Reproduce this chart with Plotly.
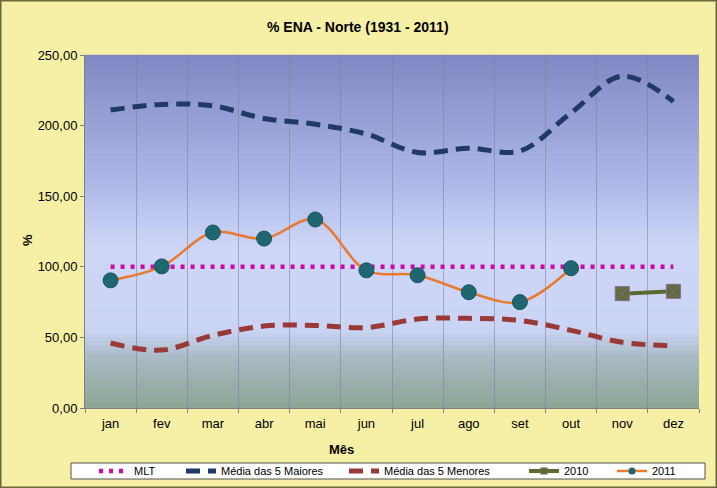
import plotly.graph_objects as go

meses = ["jan", "fev", "mar", "abr", "mai", "jun", "jul", "ago", "set", "out", "nov", "dez"]
mlt = [100, 100, 100, 100, 100, 100, 100, 100, 100, 100, 100, 100]
media_maiores = [211, 215, 214, 205, 201, 194, 181, 184, 182, 209, 235, 217]
media_menores = [46, 41, 51.5, 58, 58.5, 57, 63, 63.5, 62, 55, 46.5, 44]
ano_2010_meses = ["nov", "dez"]
ano_2010 = [81, 82.6]
ano_2011_meses = ["jan", "fev", "mar", "abr", "mai", "jun", "jul", "ago", "set", "out"]
ano_2011 = [90.4, 100.3, 124.3, 120, 133.5, 97.5, 94, 82, 75, 99]
y_ticks = [0, 50, 100, 150, 200, 250]
y_ticktext = ["0,00", "50,00", "100,00", "150,00", "200,00", "250,00"]

W, H = 717, 488
L, R, T, B = 85, 18, 55, 80
PW, PH = W - L - R, H - T - B

def px_x(p):
    return (p - L) / PW

def px_y(p):
    return (H - B - p) / PH

FONT = "Liberation Sans, Arial, sans-serif"

fig = go.Figure()

fig.add_trace(go.Scatter(x=meses, y=mlt, name="MLT", mode="lines",
                         line=dict(color="#cc0aa8", width=4.5, dash="4px,6px"),
                         legend="legend6"))
fig.add_trace(go.Scatter(x=meses, y=media_maiores, name="Média das 5 Maiores", mode="lines",
                         line=dict(color="#1f3a68", width=5, dash="14px,8px", shape="spline", smoothing=1),
                         legend="legend2"))
fig.add_trace(go.Scatter(x=meses, y=media_menores, name="Média das 5 Menores", mode="lines",
                         line=dict(color="#9a3a38", width=5, dash="14px,8px", shape="spline", smoothing=1),
                         legend="legend3"))
fig.add_trace(go.Scatter(x=ano_2010_meses, y=ano_2010, name="2010", mode="lines+markers",
                         line=dict(color="#5a6a30", width=4),
                         marker=dict(symbol="square", size=7, color="#5e6b3c"),
                         legend="legend4"))
fig.add_trace(go.Scatter(x=ano_2010_meses, y=ano_2010, name="2010", mode="markers",
                         marker=dict(symbol="square-x", size=14, color="#5e6b3c",
                                     line=dict(color="#8a6a88", width=1)),
                         showlegend=False))
fig.add_trace(go.Scatter(x=ano_2011_meses, y=ano_2011, name="2011", mode="lines+markers",
                         line=dict(color="#e8792f", width=2.5, shape="spline", smoothing=1),
                         marker=dict(symbol="circle", size=7, color="#1e6670"),
                         legend="legend5"))
fig.add_trace(go.Scatter(x=ano_2011_meses, y=ano_2011, name="2011", mode="markers",
                         marker=dict(symbol="circle", size=15, color="#1e6670",
                                     line=dict(color="#185660", width=1)),
                         showlegend=False))

# gradient background of plot area
stops = [(0.0, (128, 136, 196)), (0.35, (172, 182, 230)), (0.55, (206, 214, 248)),
         (0.78, (202, 212, 244)), (0.86, (168, 186, 196)), (1.0, (140, 164, 148))]

def col(f):
    for i in range(len(stops) - 1):
        a, ca = stops[i]
        b, cb = stops[i + 1]
        if a <= f <= b:
            t = (f - a) / (b - a)
            return "rgb(%d,%d,%d)" % tuple(round(ca[k] + (cb[k] - ca[k]) * t) for k in range(3))
    return "rgb(%d,%d,%d)" % stops[-1][1]

shapes = []
N = 80
for i in range(N):
    f = (i + 0.5) / N
    shapes.append(dict(type="rect", xref="x domain", yref="y domain", x0=0, x1=1,
                       y0=1 - (i + 1) / N - 0.001, y1=1 - i / N + 0.001,
                       fillcolor=col(f), line=dict(width=0), layer="below"))
# outer chart border
shapes.append(dict(type="rect", xref="paper", yref="paper",
                   x0=px_x(0.75), x1=px_x(W - 0.75), y0=px_y(H - 0.75), y1=px_y(0.75),
                   line=dict(color="#6b6a3a", width=1.5), fillcolor="rgba(0,0,0,0)", layer="below"))
# legend box
shapes.append(dict(type="rect", xref="paper", yref="paper",
                   x0=px_x(71), x1=px_x(705), y0=px_y(479), y1=px_y(463),
                   line=dict(color="#505050", width=1), fillcolor="white", layer="below"))

leg_common = dict(orientation="h", yanchor="middle", y=px_y(471), xanchor="left",
                  bgcolor="rgba(0,0,0,0)", borderwidth=0, font=dict(family=FONT, size=11, color="#000"),
                  itemwidth=30, tracegroupgap=0)

fig.update_layout(
    width=W, height=H,
    margin=dict(l=L, r=R, t=T, b=B, autoexpand=False),
    paper_bgcolor="#f5f0a6",
    plot_bgcolor="rgba(0,0,0,0)",
    font=dict(family=FONT, size=11, color="#000"),
    shapes=shapes,
    showlegend=True,
    legend=dict(visible=False),
    legend6=dict(x=px_x(94), **leg_common),
    legend2=dict(x=px_x(181), **leg_common),
    legend3=dict(x=px_x(344), **leg_common),
    legend4=dict(x=px_x(524), **leg_common),
    legend5=dict(x=px_x(612), **leg_common),
    annotations=[
        dict(text="<b>% ENA - Norte (1931 - 2011)</b>", xref="paper", yref="paper",
             x=px_x(358), y=px_y(27), showarrow=False, font=dict(size=14, family=FONT),
             xanchor="center", yanchor="middle"),
        dict(text="<b>%</b>", xref="paper", yref="paper", x=px_x(27), y=px_y(240),
             showarrow=False, textangle=-90, font=dict(size=13, family=FONT),
             xanchor="center", yanchor="middle"),
        dict(text="<b>Mês</b>", xref="paper", yref="paper", x=px_x(341), y=px_y(449),
             showarrow=False, font=dict(size=13, family=FONT),
             xanchor="center", yanchor="middle"),
    ],
)

fig.update_xaxes(type="category", categoryorder="array", categoryarray=meses,
                 range=[-0.5, 11.5], tickson="boundaries", ticks="outside", ticklen=4,
                 tickcolor="#808080", showline=True, linecolor="#808080", linewidth=1,
                 showgrid=True, gridcolor="rgba(120,130,160,0.55)", gridwidth=1,
                 tickfont=dict(size=13), ticklabelstandoff=3)
fig.update_yaxes(range=[0, 250], tickvals=y_ticks, ticktext=y_ticktext, ticks="outside",
                 ticklen=4, tickcolor="#808080", showline=True, linecolor="#808080",
                 linewidth=1, showgrid=False, zeroline=False, tickfont=dict(size=13))

fig.write_html("out.html", config={"displayModeBar": False, "responsive": False},
               post_script="document.body.style.margin='0';")
